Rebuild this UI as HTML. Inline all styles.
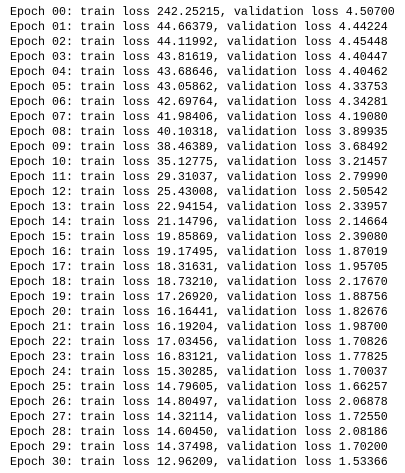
<!DOCTYPE html>
<html><head><meta charset="utf-8"><style>
html,body{margin:0;padding:0;background:#fff;width:405px;height:473px;overflow:hidden}
pre{position:absolute;left:10px;top:5px;margin:0;font-family:"Liberation Mono","Noto Sans CJK SC",monospace;font-size:11.67px;line-height:15px;color:#000}
.l{display:block;height:15px}
</style></head><body>
<pre><span class="l">Epoch 00: train loss 242.25215, validation loss 4.50700</span><span class="l">Epoch 01: train loss 44.66379, validation loss 4.44224</span><span class="l">Epoch 02: train loss 44.11992, validation loss 4.45448</span><span class="l">Epoch 03: train loss 43.81619, validation loss 4.40447</span><span class="l">Epoch 04: train loss 43.68646, validation loss 4.40462</span><span class="l">Epoch 05: train loss 43.05862, validation loss 4.33753</span><span class="l">Epoch 06: train loss 42.69764, validation loss 4.34281</span><span class="l">Epoch 07: train loss 41.98406, validation loss 4.19080</span><span class="l">Epoch 08: train loss 40.10318, validation loss 3.89935</span><span class="l">Epoch 09: train loss 38.46389, validation loss 3.68492</span><span class="l">Epoch 10: train loss 35.12775, validation loss 3.21457</span><span class="l">Epoch 11: train loss 29.31037, validation loss 2.79990</span><span class="l">Epoch 12: train loss 25.43008, validation loss 2.50542</span><span class="l">Epoch 13: train loss 22.94154, validation loss 2.33957</span><span class="l">Epoch 14: train loss 21.14796, validation loss 2.14664</span><span class="l">Epoch 15: train loss 19.85869, validation loss 2.39080</span><span class="l">Epoch 16: train loss 19.17495, validation loss 1.87019</span><span class="l">Epoch 17: train loss 18.31631, validation loss 1.95705</span><span class="l">Epoch 18: train loss 18.73210, validation loss 2.17670</span><span class="l">Epoch 19: train loss 17.26920, validation loss 1.88756</span><span class="l">Epoch 20: train loss 16.16441, validation loss 1.82676</span><span class="l">Epoch 21: train loss 16.19204, validation loss 1.98700</span><span class="l">Epoch 22: train loss 17.03456, validation loss 1.70826</span><span class="l">Epoch 23: train loss 16.83121, validation loss 1.77825</span><span class="l">Epoch 24: train loss 15.30285, validation loss 1.70037</span><span class="l">Epoch 25: train loss 14.79605, validation loss 1.66257</span><span class="l">Epoch 26: train loss 14.80497, validation loss 2.06878</span><span class="l">Epoch 27: train loss 14.32114, validation loss 1.72550</span><span class="l">Epoch 28: train loss 14.60450, validation loss 2.08186</span><span class="l">Epoch 29: train loss 14.37498, validation loss 1.70200</span><span class="l">Epoch 30: train loss 12.96209, validation loss 1.53366</span></pre>
</body></html>
